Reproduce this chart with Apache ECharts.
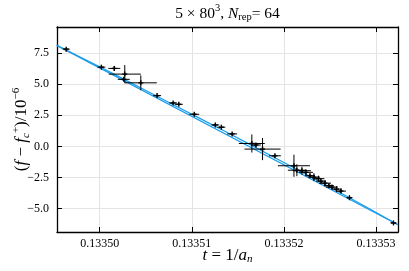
<!DOCTYPE html>
<html><head><meta charset="utf-8">
<script src="https://cdn.jsdelivr.net/npm/echarts@6/dist/echarts.min.js"></script>
<style>html,body{margin:0;padding:0;background:#fff}#c{width:409px;height:271px}</style>
</head><body><div id="c"></div>
<script>
// measured points: t = 1/a_n, f - f_c^+ in units of 1e-6
const tValues = [0.13349636,0.13350018,0.13350158,0.13350272,0.13350261,0.13350446,0.13350623,0.13350797,0.13350859,0.13351027,0.13351255,0.13351321,0.13351438,0.13351652,0.13351696,0.13351768,0.13351902,0.13352109,0.13352141,0.13352196,0.13352239,0.13352283,0.13352326,0.13352375,0.13352402,0.13352446,0.13352489,0.13352522,0.13352571,0.13352620,0.13352712,0.13353190];
const fValues = [7.82,6.37,6.27,5.81,5.39,5.11,4.08,3.49,3.38,2.58,1.72,1.54,1.00,0.23,0.11,-0.22,-0.76,-1.56,-1.92,-1.96,-2.09,-2.36,-2.48,-2.60,-2.80,-2.96,-3.16,-3.28,-3.44,-3.60,-4.13,-6.16];
const tErrors = [3.8e-7,4.3e-7,6.5e-7,1.74e-6,6.5e-7,1.74e-6,4.3e-7,4.3e-7,4.3e-7,5.4e-7,4.3e-7,4.3e-7,5.4e-7,1.41e-6,5.4e-7,1.96e-6,6.5e-7,1.74e-6,9.8e-7,9.8e-7,7.6e-7,5.4e-7,6.5e-7,6.5e-7,5.4e-7,6.5e-7,5.4e-7,6.5e-7,5.4e-7,5.4e-7,3.3e-7,3.3e-7];
const fErrors = [0.08,0.08,0.2,0.73,0.12,0.6,0.08,0.08,0.08,0.12,0.08,0.08,0.08,0.73,0.16,0.89,0.12,0.89,0.48,0.32,0.24,0.16,0.32,0.24,0.16,0.24,0.16,0.16,0.24,0.16,0.08,0.08];

// fit lines
const linearFitT = [0.13349533,0.13353239];
const linearFitF = [8.12,-6.31];
const curveFitT = [0.13349533,0.13350000,0.13350543,0.13351087,0.13351630,0.13352174,0.13352717,0.13353239];
const curveFitF = [8.12,6.40,4.33,2.25,0.16,-1.99,-4.16,-6.31];

const xTicks = [0.13350,0.13351,0.13352,0.13353];
const yTicks = [-5,-2.5,0,2.5,5,7.5];
const xMin = 0.13349536, xMax = 0.13353239;
const yMin = -6.89, yMax = 9.6;

const FONT = 'Liberation Serif';
const chart = echarts.init(document.getElementById('c'), null, {renderer:'canvas'});

const pts = tValues.map((t,i)=>[t,fValues[i],tErrors[i],fErrors[i]]);
const fmtY = v => (v<0?'\u2212':'') + Math.abs(v).toFixed(1);

const axisLineStyle = {color:'#000', width:1.3};
const option = {
  animation:false,
  backgroundColor:'#fff',
  grid:{left:57, right:11, top:27, bottom:39, containLabel:false, outerBoundsMode:'none'},
  graphic:[{
    type:'text', x:0, y:0,
    style:{
      x:227.5, y:3, textAlign:'center',
      text:'{a|5 × 80}{sup|3}{a|, }{i|N}{sub|rep}{a|= 64}',
      rich:{
        a:{fontFamily:FONT, fontSize:15.5, color:'#000'},
        i:{fontFamily:FONT, fontSize:15.5, fontStyle:'italic', color:'#000'},
        sup:{fontFamily:FONT, fontSize:10.5, color:'#000', padding:[0,0,10,0]},
        sub:{fontFamily:FONT, fontSize:10.5, color:'#000', padding:[7,0,0,0]}
      }
    }
  }],
  xAxis:[{
    type:'value', min:xMin, max:xMax, position:'bottom',
    axisLine:{show:true, onZero:false, lineStyle:axisLineStyle},
    axisTick:{show:true, inside:true, length:5, customValues:xTicks, lineStyle:{color:'#000', width:1}},
    axisLabel:{customValues:xTicks, formatter:v=>v.toFixed(5), fontFamily:FONT, fontSize:12, color:'#000', margin:6},
    splitLine:{show:true, lineStyle:{color:'#e4e4e4', width:1}},
    name:'{i|t}{a| = 1/}{i|a}{sub|n}', nameLocation:'middle', nameGap:14, nameMoveOverlap:false,
    nameTextStyle:{rich:{
      a:{fontFamily:FONT, fontSize:17, color:'#000'},
      i:{fontFamily:FONT, fontSize:17, fontStyle:'italic', color:'#000'},
      sub:{fontFamily:FONT, fontSize:11, fontStyle:'italic', color:'#000', padding:[8,0,0,0]}
    }}
  },{
    type:'value', min:xMin, max:xMax, position:'top',
    axisLine:{show:true, onZero:false, lineStyle:axisLineStyle},
    axisTick:{show:true, inside:true, length:5, customValues:xTicks, lineStyle:{color:'#000', width:1}},
    axisLabel:{show:false},
    splitLine:{show:false}
  }],
  yAxis:[{
    type:'value', min:yMin, max:yMax, position:'left',
    axisLine:{show:true, onZero:false, lineStyle:axisLineStyle},
    axisTick:{show:true, inside:true, length:5, customValues:yTicks, lineStyle:{color:'#000', width:1}},
    axisLabel:{customValues:yTicks, formatter:fmtY, fontFamily:FONT, fontSize:12, color:'#000', margin:8},
    splitLine:{show:true, lineStyle:{color:'#e4e4e4', width:1}},
    name:'{a|(}{i|f}{a| \u2212 }{i|f}{sub|c}{sup|+}{a|)/10}{sup|\u22126}', nameLocation:'middle', nameGap:24, nameRotate:90, nameMoveOverlap:false,
    nameTextStyle:{rich:{
      a:{fontFamily:FONT, fontSize:17, color:'#000'},
      i:{fontFamily:FONT, fontSize:17, fontStyle:'italic', color:'#000'},
      sub:{fontFamily:FONT, fontSize:11, fontStyle:'italic', color:'#000', padding:[8,0,0,0]},
      sup:{fontFamily:FONT, fontSize:11, color:'#000', padding:[0,0,11,0]}
    }}
  },{
    type:'value', min:yMin, max:yMax, position:'right',
    axisLine:{show:true, onZero:false, lineStyle:axisLineStyle},
    axisTick:{show:true, inside:true, length:5, customValues:yTicks, lineStyle:{color:'#000', width:1}},
    axisLabel:{show:false},
    splitLine:{show:false}
  }],
  series:[{
    type:'line', xAxisIndex:0, yAxisIndex:0, symbol:'none', silent:true,
    data: linearFitT.map((t,i)=>[t,linearFitF[i]]),
    lineStyle:{color:'#1a9cea', width:1.2}
  },{
    type:'line', xAxisIndex:0, yAxisIndex:0, symbol:'none', silent:true, smooth:0.3,
    data: curveFitT.map((t,i)=>[t,curveFitF[i]]),
    lineStyle:{color:'#1a9cea', width:1.2}
  },{
    type:'custom', xAxisIndex:0, yAxisIndex:0, silent:true,
    encode:{x:0, y:1},
    data: pts,
    renderItem:function(params, api){
      const x=api.value(0), y=api.value(1), dx=api.value(2), dy=api.value(3);
      const c=api.coord([x,y]);
      const l=api.coord([x-dx,y]), r=api.coord([x+dx,y]);
      const tp=api.coord([x,y+dy]), bt=api.coord([x,y-dy]);
      const st={stroke:'#000', lineWidth:1};
      const mk={stroke:'#000', lineWidth:1.4};
      return {type:'group', children:[
        {type:'line', shape:{x1:l[0],y1:c[1],x2:r[0],y2:c[1]}, style:st},
        {type:'line', shape:{x1:c[0],y1:tp[1],x2:c[0],y2:bt[1]}, style:st},
        {type:'line', shape:{x1:c[0]-2.5,y1:c[1],x2:c[0]+2.5,y2:c[1]}, style:mk},
        {type:'line', shape:{x1:c[0],y1:c[1]-2.5,x2:c[0],y2:c[1]+2.5}, style:mk}
      ]};
    },
    z:5
  }]
};
chart.setOption(option);
</script></body></html>
